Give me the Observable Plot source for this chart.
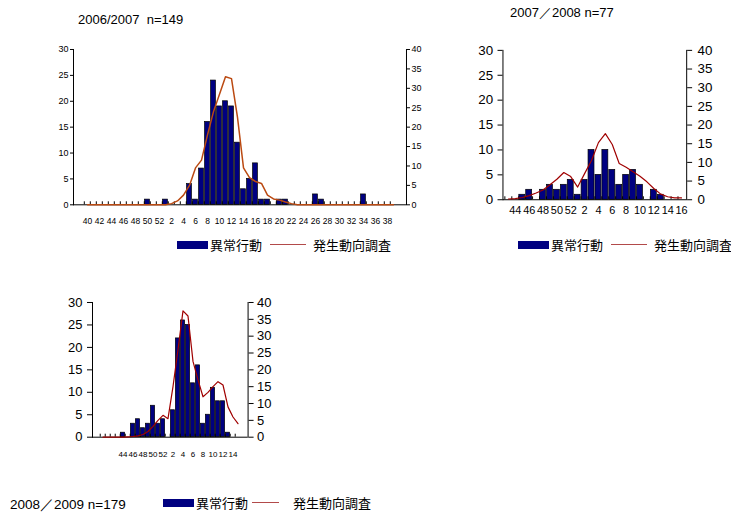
<!DOCTYPE html>
<html><head><meta charset="utf-8">
<script src="https://cdn.jsdelivr.net/npm/d3@7"></script>
<script src="https://cdn.jsdelivr.net/npm/@observablehq/plot@0.6"></script>
<style>
body{margin:0;background:#fff;}
#root{position:relative;width:731px;height:521px;overflow:hidden;font-family:"Liberation Sans",Arial,sans-serif;color:#000;}
.pnl{position:absolute;}
.title{position:absolute;white-space:pre;line-height:1;font-family:"Liberation Sans",Arial,sans-serif;}
.leg{position:absolute;height:16px;white-space:nowrap;font-family:"Noto Sans CJK JP",sans-serif;font-size:13px;line-height:16px;}
.leg .box{position:absolute;top:4px;height:8px;background:#000080;}
.leg .ln{position:absolute;top:7px;height:0;border-top:1.6px solid #b24a4a;}
.leg .tx{position:absolute;top:0;}
</style></head><body><div id="root"></div>
<script>
// ---------- data ----------
const titles = ["2006/2007  n=149", "2007／2008 n=77", "2008／2009 n=179"];
const seriesNames = ["異常行動", "発生動向調査"];

// 2006/2007 (weeks 40..52, 1..39)
const weeks1 = [40,41,42,43,44,45,46,47,48,49,50,51,52,1,2,3,4,5,6,7,8,9,10,11,12,13,14,15,16,17,18,19,20,21,22,23,24,25,26,27,28,29,30,31,32,33,34,35,36,37,38,39];
const bars1  = [0,0,0,0,0,0,0,0,0,0,1,0,0,1,0,0,0,4,1,7,16,24,19,20,19,12,3,5,8,1,1,0,1,1,0,0,0,0,2,1,0,0,0,0,0,0,2,0,0,0,0,0];
const line1  = [0,0,0,0,0,0,0,0,0,0,0,0,0,0,0.3,1,2.5,5,9.5,11.5,18,24,28.5,33,32.5,22.5,9.5,7,6,5.5,2.5,1.5,1.2,0.7,0.3,0,0,0,0,0,0,0,0,0,0,0,0,0,0,0,0,0];
const ticks1 = [40,42,44,46,48,50,52,2,4,6,8,10,12,14,16,18,20,22,24,26,28,30,32,34,36,38];

// 2007/2008 (weeks 43..52, 1..16)
const weeks2 = [43,44,45,46,47,48,49,50,51,52,1,2,3,4,5,6,7,8,9,10,11,12,13,14,15,16];
const bars2  = [0,0,1,2,0,2,3,2,3,4,1,4,10,5,10,6,3,5,6,3,0,2,1,0,0,0];
const line2  = [0.2,0.3,0.6,1.1,1.8,2.6,4,5.5,7.3,6.2,3.4,7,10.5,15.3,17.7,14.8,9.7,8.7,7.5,6.3,4.8,3,1.5,0.8,0.5,0.5];
const ticks2 = [44,46,48,50,52,2,4,6,8,10,12,14,16];

// 2008/2009 (weeks 40..52, 1..15)
const weeks3 = [40,41,42,43,44,45,46,47,48,49,50,51,52,1,2,3,4,5,6,7,8,9,10,11,12,13,14,15];
const bars3  = [0,0,0,0,1,0,3,4,2,3,7,3,4,0,6,22,26,25,12,16,3,5,11,8,8,1,0,0];
const line3  = [0,0,0,0,0,0.1,0.2,0.4,0.8,1.7,3.2,5,6.5,5.5,15,26,37.5,36,22.5,17,12,13.3,15,16.5,15.5,9,6,4];
const ticks3 = [44,46,48,50,52,2,4,6,8,10,12,14];

const leftTicks = [0,5,10,15,20,25,30];
const rightTicks = [0,5,10,15,20,25,30,35,40];

// ---------- drawing ----------
const root = document.getElementById("root");
const K = 30/40;

function panel(cfg) {
  const [pl, pt, pr, pb] = cfg.rect;
  const svgL = pl - 50, svgT = pt - 12, svgR = pr + 45, svgB = pb + 35;
  const n = cfg.weeks.length;
  const step = (pr - pl) / n;
  const rows = cfg.weeks.map((w, i) => ({week: w, v: cfg.bars[i], l: cfg.line[i]}));
  const svg = Plot.plot({
    width: svgR - svgL, height: svgB - svgT,
    marginLeft: pl - svgL, marginRight: svgR - pr, marginTop: pt - svgT, marginBottom: svgB - pb,
    x: {type: "band", domain: cfg.weeks, padding: 0, label: null},
    y: {domain: [0, 30], label: null},
    style: {fontFamily: "'Liberation Sans', Arial, sans-serif", background: "transparent", color: "#000", overflow: "visible"},
    marks: [
      Plot.barY(rows.filter(d => d.v > 0), {x: "week", y: "v", fill: "#000080", stroke: "#000", strokeWidth: 0.7, insetLeft: cfg.inset, insetRight: cfg.inset}),
      Plot.ruleY([0], {stroke: "#000"}),
      Plot.ruleX(cfg.weeks, {x: d => d, y1: 0, y2: 0, insetBottom: 3, dx: -step / 2, stroke: "#000"}),
      Plot.line(rows, {x: "week", y: d => d.l * K, stroke: cfg.lineColor, strokeWidth: cfg.lineWidth}),
      Plot.frame({anchor: "left", stroke: "#000"}),
      Plot.frame({anchor: "right", stroke: "#000"}),
      Plot.axisY({anchor: "left", ticks: leftTicks, tickSize: cfg.tickLen, tickPadding: cfg.padL, fontSize: cfg.fontY, label: null}),
      Plot.axisY(rightTicks.map(v => v * K), {anchor: "right", tickFormat: d => String(Math.round(d / K)), tickSize: cfg.tickLen, tickPadding: cfg.padR, fontSize: cfg.fontY, label: null}),
      Plot.axisX({ticks: cfg.ticks, tickSize: 0, tickPadding: cfg.padX, fontSize: cfg.fontX, label: null})
    ]
  });
  const wrap = document.createElement("div");
  wrap.className = "pnl";
  wrap.style.left = svgL + "px";
  wrap.style.top = svgT + "px";
  wrap.appendChild(svg);
  root.appendChild(wrap);
}

function title(text, x, y, fs) {
  const d = document.createElement("div");
  d.className = "title";
  d.textContent = text;
  d.style.left = x + "px"; d.style.top = y + "px"; d.style.fontSize = fs + "px";
  root.appendChild(d);
}

function legend(x, cy, lineL, lw, textL) {
  const d = document.createElement("div");
  d.className = "leg";
  d.style.left = x + "px"; d.style.top = (cy - 8) + "px";
  const box = document.createElement("div"); box.className = "box"; box.style.left = "0px"; box.style.width = "31px";
  const t1 = document.createElement("div"); t1.className = "tx"; t1.style.left = "33px"; t1.textContent = seriesNames[0];
  const ln = document.createElement("div"); ln.className = "ln"; ln.style.left = lineL + "px"; ln.style.width = lw + "px";
  const t2 = document.createElement("div"); t2.className = "tx"; t2.style.left = textL + "px"; t2.textContent = seriesNames[1];
  d.append(box, t1, ln, t2);
  root.appendChild(d);
}

panel({rect: [72.7, 49, 405.7, 204.3], weeks: weeks1, bars: bars1, line: line1, ticks: ticks1,
  fontY: 9, fontX: 8.5, tickLen: 3, padL: 2, padR: 2, padX: 13, lineColor: "#bb4a12", lineWidth: 1.5, inset: 0.6});
panel({rect: [503.3, 50, 689, 201], weeks: weeks2, bars: bars2, line: line2, ticks: ticks2,
  fontY: 13.5, fontX: 11, tickLen: 5, padL: 5, padR: 6, padX: 7, lineColor: "#a00000", lineWidth: 1.2, inset: 0.5});
panel({rect: [91.7, 302.3, 247.3, 437], weeks: weeks3, bars: bars3, line: line3, ticks: ticks3,
  fontY: 13, fontX: 8, tickLen: 5, padL: 5, padR: 4, padX: 14, lineColor: "#a00000", lineWidth: 1.2, inset: 0.4});

title(titles[0], 78, 13, 13);
title(titles[1], 510, 6, 13);
title(titles[2], 10, 498, 13.5);

legend(177, 245, 93, 36, 136);
legend(518, 245, 93, 36, 136);
legend(163, 503, 89, 27, 130);
</script></body></html>
